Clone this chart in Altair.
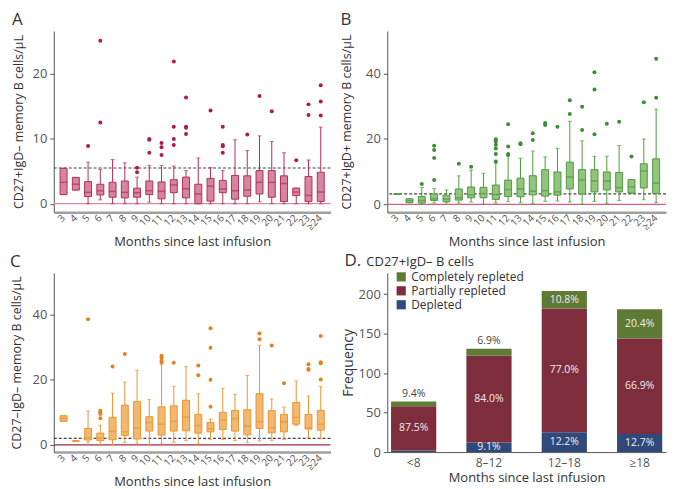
import altair as alt
import pandas as pd

# ---------------- data ----------------
months = ["3", "4", "5", "6", "7", "8", "9", "10", "11", "12", "13", "14", "15",
          "16", "17", "18", "19", "20", "21", "22", "23", "≥24"]

# Panel A: CD27+IgD- memory B cells
a_lo  = [1.4, 2.1, 0.0, 0.6, 0.0, 0.0, 0.0, 0.25, 0.0, 0.0, 0.0, 0.0, 0.0, 0.0, 0.0, 0.0, 0.3, 0.0, 0.0, 0.0, 0.0, 0.0]
a_q1  = [1.4, 2.1, 1.1, 1.35, 1.0, 0.9, 1.0, 1.4, 0.75, 1.7, 0.9, 0.0, 0.4, 1.7, 0.7, 1.15, 1.5, 1.0, 0.35, 1.25, 0.35, 0.35]
a_med = [3.3, 3.0, 1.75, 2.0, 1.9, 1.75, 1.7, 2.0, 1.9, 2.9, 2.3, 1.5, 2.7, 2.25, 2.0, 2.1, 3.3, 3.3, 3.1, 1.8, 1.25, 1.8]
a_q3  = [5.45, 4.05, 3.4, 3.0, 3.3, 3.5, 2.4, 3.5, 3.35, 3.7, 4.1, 3.0, 3.9, 3.6, 4.35, 4.3, 5.1, 5.1, 4.3, 2.4, 4.2, 4.85]
a_hi  = [5.45, 4.05, 6.4, 5.3, 6.8, 6.3, 4.1, 5.9, 5.9, 5.8, 5.1, 7.05, 5.55, 5.1, 9.85, 8.2, 10.45, 9.6, 7.85, 2.4, 6.75, 11.8]
a_out_m = ["5", "6", "6", "9", "9", "10", "10", "10", "11", "11", "11", "12", "12", "12", "12",
           "13", "13", "13", "13", "15", "16", "16", "16", "16", "18", "19", "20", "22",
           "23", "23", "≥24", "≥24", "≥24"]
a_out_v = [8.9, 25.1, 12.5, 5.55, 4.85, 9.95, 9.85, 7.85, 9.35, 8.7, 7.5, 21.9, 11.85, 9.95, 9.05,
           16.35, 11.85, 11.7, 10.75, 14.35, 11.85, 9.05, 8.85, 7.85, 10.65, 16.6, 14.25, 6.7,
           15.3, 13.65, 18.25, 15.75, 13.6]

# Panel B: CD27+IgD+ memory B cells
b_lo  = [3.05, 0.5, 0.0, 0.4, 0.4, 0.4, 0.7, 0.0, 0.4, 0.8, 0.5, 0.2, 0.9, 1.0, 0.7, 0.0, 0.9, 0.3, 1.2, 3.3, 1.4, 0.5]
b_q1  = [3.05, 0.5, 0.4, 1.2, 0.8, 1.3, 2.0, 2.0, 1.5, 2.4, 2.3, 2.9, 2.5, 2.8, 4.7, 3.2, 3.8, 4.4, 3.8, 3.5, 5.0, 3.3]
b_med = [3.1, 1.1, 1.2, 1.7, 1.6, 2.0, 2.9, 3.3, 3.0, 4.5, 4.7, 4.0, 4.2, 3.8, 8.35, 7.45, 7.15, 7.15, 5.1, 5.35, 10.2, 6.45]
b_q3  = [3.15, 1.7, 2.4, 3.2, 2.8, 4.7, 5.3, 5.2, 5.9, 7.4, 8.0, 8.75, 10.6, 9.9, 12.9, 10.6, 10.6, 9.9, 9.75, 7.55, 12.4, 13.9]
b_hi  = [3.15, 1.7, 5.15, 4.8, 4.4, 8.7, 10.5, 9.5, 12.6, 15.0, 14.1, 16.3, 14.5, 17.1, 25.4, 19.4, 14.7, 14.7, 18.0, 7.55, 20.0, 29.1]
b_out_m = ["5", "6", "6", "6", "6", "8", "9", "11", "11", "11", "11", "11", "11",
           "12", "12", "12", "12", "13", "13", "14", "14", "15", "15", "16", "17", "17",
           "18", "18", "19", "19", "19", "20", "21", "22", "23", "≥24", "≥24"]
b_out_v = [6.2, 17.9, 16.6, 14.2, 7.45, 12.4, 11.5, 19.9, 19.2, 18.2, 17.1, 15.4, 13.1,
           24.5, 17.7, 15.4, 15.1, 18.7, 18.4, 21.7, 19.7, 24.85, 24.25, 23.75, 31.8, 27.6,
           29.8, 22.7, 40.4, 35.1, 21.4, 24.65, 25.25, 14.6, 31.2, 44.5, 32.6]

# Panel C: CD27-IgD- memory B cells
c_lo  = [7.25, 1.15, 0.7, 0.0, 0.0, 0.7, 0.3, 0.0, 0.3, 0.8, 1.3, 0.3, 1.7, 1.7, 1.3, 0.7, 1.2, 1.3, 1.7, 5.95, 2.2, 1.9]
c_q1  = [7.25, 1.15, 1.5, 1.3, 1.6, 2.9, 1.8, 4.25, 3.0, 4.25, 4.35, 3.6, 4.0, 4.75, 4.25, 3.1, 5.05, 3.7, 4.0, 6.35, 4.85, 4.55]
c_med = [8.15, 1.2, 2.2, 2.1, 4.15, 4.0, 5.25, 6.85, 6.35, 7.25, 8.55, 5.95, 4.95, 7.65, 8.05, 5.75, 7.15, 5.25, 7.15, 8.45, 5.25, 6.35]
c_q3  = [8.95, 1.25, 5.05, 3.6, 8.45, 12.2, 13.3, 8.65, 11.7, 12.0, 13.7, 9.35, 6.85, 10.0, 10.6, 10.8, 15.7, 10.5, 9.35, 13.0, 9.35, 10.6]
c_hi  = [8.95, 1.25, 10.4, 6.05, 15.9, 19.3, 22.9, 13.9, 24.65, 18.0, 24.0, 15.7, 7.95, 17.4, 15.5, 21.3, 30.6, 14.1, 11.6, 19.6, 15.0, 17.9]
c_out_m = ["5", "6", "6", "6", "6", "7", "8", "11", "11", "11", "11", "12", "14", "14",
           "15", "15", "15", "15", "19", "19", "20", "21", "23", "23", "23",
           "≥24", "≥24", "≥24", "≥24"]
c_out_v = [38.6, 10.5, 9.95, 9.45, 8.15, 24.05, 27.9, 27.4, 26.8, 25.8, 25.4, 25.25, 24.35, 21.4,
           35.8, 29.8, 20.0, 11.7, 34.2, 32.4, 30.5, 18.9, 24.75, 23.3, 23.1,
           33.4, 25.4, 25.1, 20.1]

# Panel D: stacked frequencies
d_groups = ["<8", "8–12", "12–18", "≥18"]
d_depleted = [2, 12, 25, 23]
d_partial = [56, 110, 157, 121]
d_complete = [6, 9, 22, 37]
d_pct_depleted = ["", "9.1%", "12.2%", "12.7%"]
d_pct_partial = ["87.5%", "84.0%", "77.0%", "66.9%"]
d_pct_complete = ["9.4%", "6.9%", "10.8%", "20.4%"]
d_status = ["Completely repleted", "Partially repleted", "Depleted"]

FONT = "Open Sans"
X_TITLE = "Months since last infusion"

W1, W2 = 278, 280
H1, H2 = 182, 180
HSP, VSP = 57, 61


def box_panel(letter, ytitle, lo, q1, med, q3, hi, out_m, out_v, fill, stroke, dot,
              domain, ticks, ref_level, zero_color, width, height, title_pad):
    df = pd.DataFrame({"month": months, "lo": lo, "q1": q1, "med": med, "q3": q3, "hi": hi})
    odf = pd.DataFrame({"month": out_m, "v": out_v})
    xenc = alt.X("month:N", sort=months, title=X_TITLE,
                 scale=alt.Scale(paddingInner=0, paddingOuter=0.3),
                 axis=alt.Axis(labelAngle=-45, labelAlign="right", labelBaseline="middle",
                               labelFontSize=10, labelColor="#555", labelPadding=4,
                               ticks=False, domainColor="#a0a0a0", domainWidth=2.5,
                               titleFontSize=13, titleColor="#333", titleFontWeight="normal",
                               titlePadding=4))
    yscale = alt.Scale(domain=domain, nice=False, zero=False)
    yaxis = alt.Axis(values=ticks, grid=False, labelFontSize=13, labelColor="#555",
                     tickColor="#555", tickSize=4, labelPadding=3, domainColor="#555",
                     titleFontSize=12.5, titleColor="#333", titleFontWeight="normal",
                     titlePadding=title_pad)
    base = alt.Chart(df).encode(x=xenc)
    zero = alt.Chart(pd.DataFrame({"v": [0]})).mark_rule(color=zero_color, strokeWidth=1.3).encode(
        y=alt.Y("v:Q", scale=yscale, axis=yaxis, title=ytitle))
    ref = alt.Chart(pd.DataFrame({"v": [ref_level]})).mark_rule(
        color="#444", strokeDash=[3, 2], strokeWidth=1.2).encode(y=alt.Y("v:Q", scale=yscale))
    w_lo = base.mark_rule(color=stroke, strokeWidth=1).encode(y=alt.Y("lo:Q", scale=yscale), y2="q1:Q")
    w_hi = base.mark_rule(color=stroke, strokeWidth=1).encode(y=alt.Y("q3:Q", scale=yscale), y2="hi:Q")
    cap_lo = base.mark_tick(color=stroke, size=4, thickness=1, orient="horizontal").encode(
        y=alt.Y("lo:Q", scale=yscale))
    cap_hi = base.mark_tick(color=stroke, size=4, thickness=1, orient="horizontal").encode(
        y=alt.Y("hi:Q", scale=yscale))
    box = base.mark_bar(size=7, fill=fill, stroke=stroke, strokeWidth=1).encode(
        y=alt.Y("q1:Q", scale=yscale), y2="q3:Q")
    medl = base.mark_tick(color=stroke, size=7, thickness=1.5, orient="horizontal").encode(
        y=alt.Y("med:Q", scale=yscale))
    outl = alt.Chart(odf).mark_circle(color=dot, size=16, opacity=1).encode(
        x=alt.X("month:N", sort=months), y=alt.Y("v:Q", scale=yscale))
    return alt.layer(zero, ref, w_lo, w_hi, cap_lo, cap_hi, box, medl, outl).properties(
        width=width, height=height,
        title=alt.TitleParams(letter, anchor="start", frame="bounds", fontSize=17,
                              fontWeight="normal", color="#333", offset=2))


pA = box_panel("A", "CD27+IgD– memory B cells/μL", a_lo, a_q1, a_med, a_q3, a_hi, a_out_m, a_out_v,
               "#d3869e", "#b52d5a", "#b3194a", [-1.3, 26.6], [0, 5, 10, 15, 20, 25], 5.5,
               "#d98ca3", W1, H1, 7)
pB = box_panel("B", "CD27+IgD+ memory B cells/μL", b_lo, b_q1, b_med, b_q3, b_hi, b_out_m, b_out_v,
               "#93c47e", "#4f9a40", "#3e8c35", [-2.4, 53], [0, 10, 20, 30, 40, 50], 3.2,
               "#d4607f", W2, H1, 12)
pC = box_panel("C", "CD27–IgD– memory B cells/μL", c_lo, c_q1, c_med, c_q3, c_hi, c_out_m, c_out_v,
               "#f2b872", "#e8952f", "#e5801f", [-2.2, 52.8], [0, 10, 20, 30, 40, 50], 2.0,
               "#9b2c4a", W1, H2, 9)

# ---------------- panel D ----------------
rows = []
lab_in = []
lab_out = []
for i, g in enumerate(d_groups):
    segs = [("Depleted", d_depleted[i], d_pct_depleted[i], 0),
            ("Partially repleted", d_partial[i], d_pct_partial[i], 1),
            ("Completely repleted", d_complete[i], d_pct_complete[i], 2)]
    base_y = 0
    total = d_depleted[i] + d_partial[i] + d_complete[i]
    for name, cnt, pct, o in segs:
        rows.append({"group": g, "status": name, "count": cnt, "ord": o})
        mid = base_y + cnt / 2
        if pct:
            if name == "Completely repleted" and cnt < 15:
                lab_out.append({"group": g, "y": total, "t": pct})
            else:
                lab_in.append({"group": g, "y": mid, "t": pct})
        base_y += cnt

ddf = pd.DataFrame(rows)
dx = alt.X("group:N", sort=d_groups, title=X_TITLE,
           scale=alt.Scale(paddingInner=0.4, paddingOuter=0.05),
           axis=alt.Axis(labelAngle=0, labelFontSize=12, labelColor="#555", ticks=False,
                         domainColor="#555", labelPadding=5, titleFontSize=13, titleColor="#333",
                         titleFontWeight="normal", titlePadding=4))
dys = alt.Scale(domain=[0, 227], nice=False)
bars = alt.Chart(ddf).mark_bar().encode(
    x=dx,
    y=alt.Y("count:Q", stack="zero", scale=dys, title="Frequency",
            axis=alt.Axis(values=[0, 50, 100, 150, 200], grid=False, labelFontSize=13,
                          labelColor="#555", tickColor="#555", tickSize=4, labelPadding=3,
                          domainColor="#555", titleFontSize=14, titleColor="#333",
                          titleFontWeight="normal", titlePadding=3)),
    color=alt.Color("status:N", scale=alt.Scale(domain=d_status,
                                                range=["#5f7a35", "#7d2d3c", "#2f4a7a"]),
                    legend=alt.Legend(title=None, orient="none",
                                      legendX=W1 + HSP + 8, legendY=H1 + VSP - 2,
                                      symbolType="square", symbolSize=85, symbolStrokeWidth=0,
                                      labelFontSize=12, labelColor="#333", rowPadding=2,
                                      labelOffset=4)),
    order=alt.Order("ord:Q", sort="ascending"))
tin = alt.Chart(pd.DataFrame(lab_in)).mark_text(color="#f4ecec", fontSize=10.5).encode(
    x=alt.X("group:N", sort=d_groups), y=alt.Y("y:Q", scale=dys), text="t:N")
tout = alt.Chart(pd.DataFrame(lab_out)).mark_text(color="#444", fontSize=10.5, dy=-8).encode(
    x=alt.X("group:N", sort=d_groups), y=alt.Y("y:Q", scale=dys), text="t:N")
dlet = alt.Chart(pd.DataFrame({"t": ["D."]})).mark_text(
    align="left", baseline="alphabetic", fontSize=17, color="#333").encode(
    x=alt.value(-43), y=alt.value(-7), text="t:N")
dsub = alt.Chart(pd.DataFrame({"t": ["CD27+IgD– B cells"]})).mark_text(
    align="left", baseline="alphabetic", fontSize=13, color="#333").encode(
    x=alt.value(-21), y=alt.value(-7), text="t:N")
pD = alt.layer(bars, tin, tout, dlet, dsub).properties(width=W2, height=H2)

chart = alt.concat(pA, pB, pC, pD, columns=2, spacing={"row": VSP, "column": HSP},
                   bounds="flush").properties(
    padding={"left": 2, "top": 2, "right": 0, "bottom": 0}
).configure(font=FONT).configure_view(stroke=None)

chart.save("out.html", embed_options={"renderer": "svg", "actions": False})
